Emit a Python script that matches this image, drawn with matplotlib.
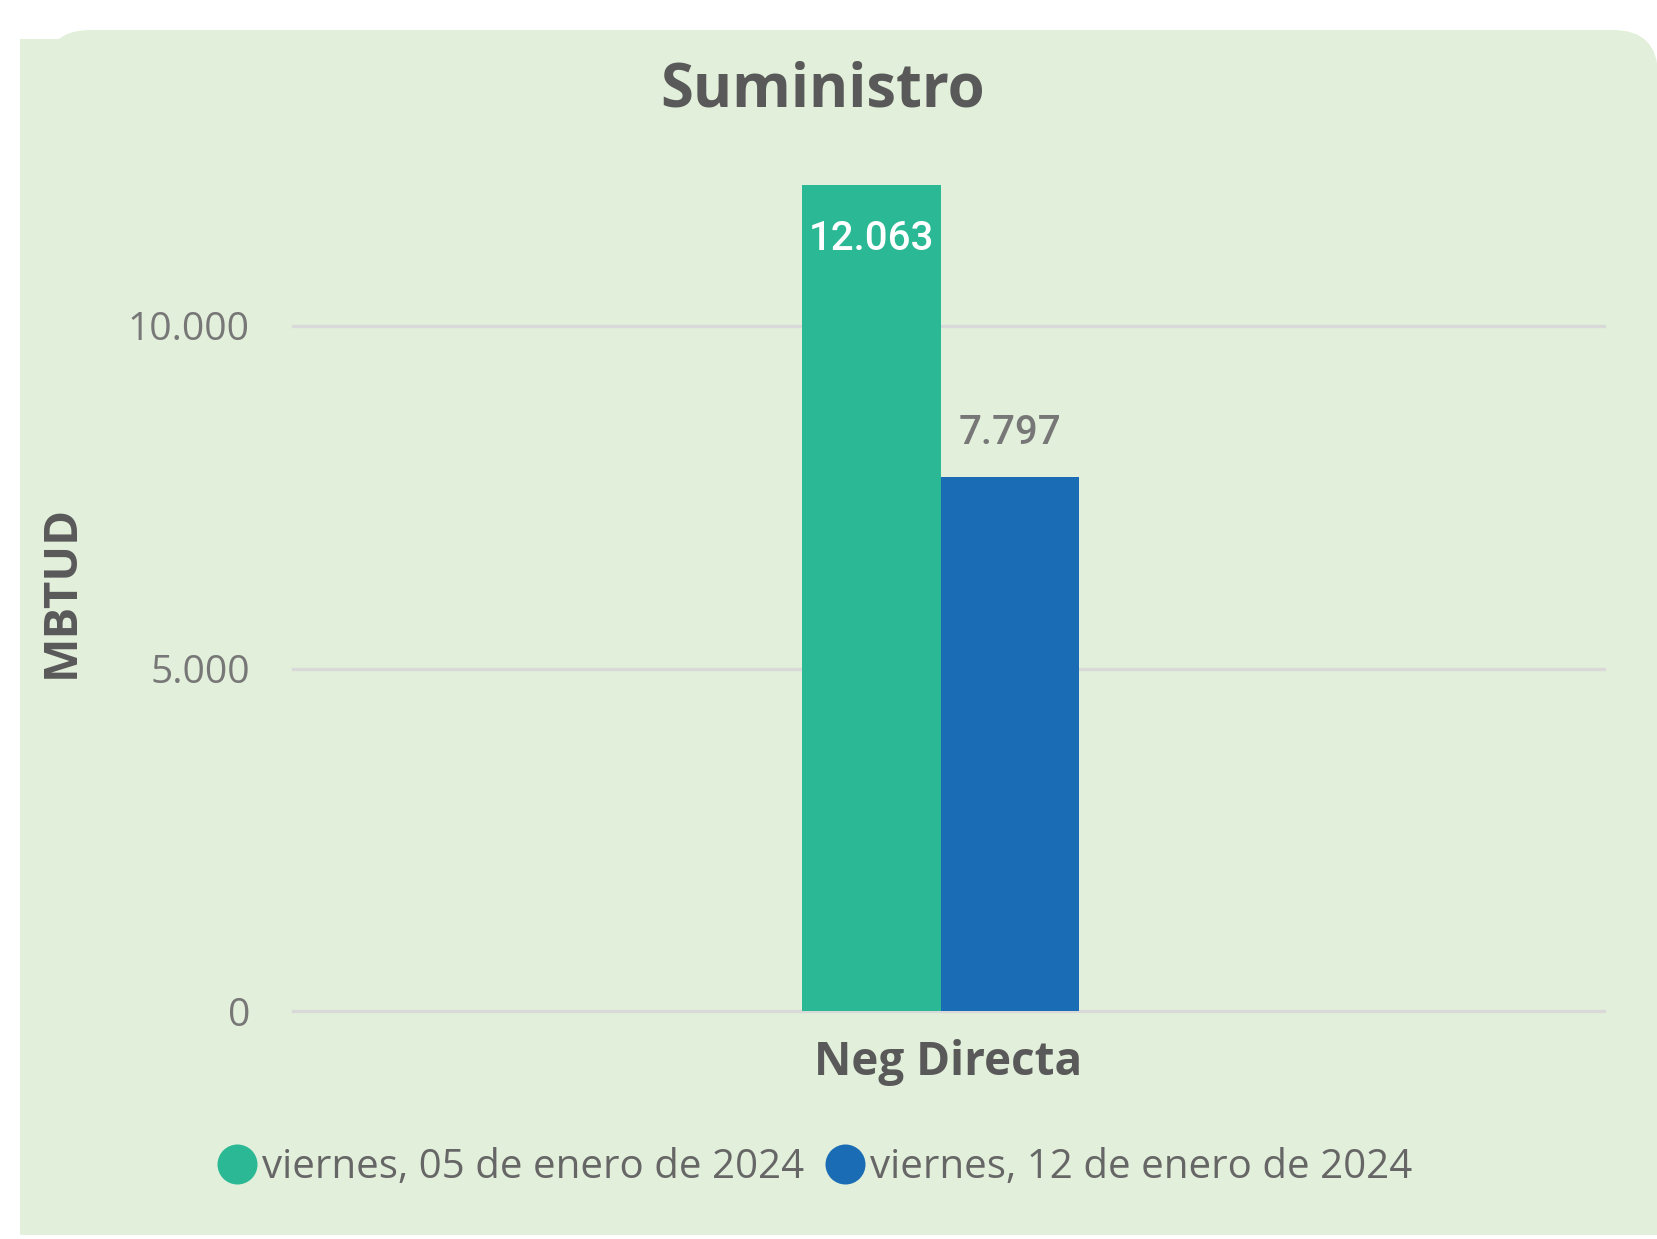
import matplotlib
matplotlib.use("Agg")
import matplotlib.pyplot as plt
from matplotlib.patches import FancyBboxPatch, Rectangle
from matplotlib.lines import Line2D
from matplotlib.transforms import IdentityTransform

# ---- data ----
categories = ["Neg Directa"]
series_names = ["viernes, 05 de enero de 2024", "viernes, 12 de enero de 2024"]
series_values = [[12063], [7797]]
yticks = [0, 5000, 10000]
ytick_labels = ["0", "5.000", "10.000"]
title = "Suministro"
ylabel = "MBTUD"

colors = ["#2BB894", "#1A6DB5"]
W, H = 1657, 1239
BG = "#E2EFDA"

fig = plt.figure(figsize=(W / 100, H / 100), dpi=100, facecolor="white")

def fx(x):
    return x / W

def fy(y):
    return 1 - y / H

# background panel
ident = IdentityTransform()
fig.add_artist(FancyBboxPatch((45, -100), 1613, 1309,
                              boxstyle="round,pad=0,rounding_size=45",
                              facecolor=BG, edgecolor="none",
                              transform=ident, zorder=-3))
fig.add_artist(Rectangle((20, 4), 200, 1196, facecolor=BG, edgecolor="none",
                         transform=ident, zorder=-3))
fig.add_artist(Rectangle((0, -5), W, 9, facecolor="white", edgecolor="none",
                         transform=ident, zorder=-2))

ax = fig.add_axes([fx(293), fy(1011), (1604 - 293) / W, (1011 - 120.5) / H])
ax.set_facecolor("none")
for s in ax.spines.values():
    s.set_visible(False)

bar_w = 138.5 / 1311
shift = -8 / 1311
x0 = range(len(categories))
containers = []
n = len(series_values)
for i, (vals, c) in enumerate(zip(series_values, colors)):
    xs = [x + shift + (i - (n - 1) / 2) * bar_w for x in x0]
    containers.append(ax.bar(xs, vals, width=bar_w, color=c, zorder=3,
                             label=series_names[i]))

ax.set_xlim(-0.5, 0.5)
ax.set_ylim(0, 13000)
ax.set_yticks(yticks)
ax.set_yticklabels(ytick_labels, family="Open Sans", fontsize=28, color="#777777")
ax.set_xticks(list(x0))
ax.set_xticklabels(categories, family="Open Sans", fontsize=33,
                   fontweight="bold", color="#595959")
ax.tick_params(axis="y", length=0, pad=31)
ax.tick_params(axis="x", length=0, pad=20)
ax.yaxis.grid(True, color="#D9D9D9", linewidth=2.4)
for gl in ax.get_ygridlines():
    gl.set_clip_on(False)
ax.set_axisbelow(True)

fmt = lambda v: f"{v:,.0f}".replace(",", ".")
ax.bar_label(containers[0], labels=[fmt(v) for v in series_values[0]],
             padding=-53, color="white", fontsize=29, family="Roboto",
             fontweight="medium")
ax.bar_label(containers[1], labels=[fmt(v) for v in series_values[1]],
             padding=18, color="#777777", fontsize=29, family="Roboto",
             fontweight="medium")

fig.text(fx(822.5), fy(106.7), title, ha="center", va="baseline",
         family="Open Sans", fontweight="bold", fontsize=43, color="#595959")
fig.text(fx(61), fy(591), ylabel, ha="center", va="center", rotation=90,
         family="Open Sans", fontweight="bold", fontsize=34, color="#595959")

handles = [Line2D([], [], marker="o", linestyle="none", markersize=28.8,
                  markerfacecolor=c, markeredgewidth=0) for c in colors]
fig.legend(handles, series_names, loc="center",
           bbox_to_anchor=(fx(814.5), fy(1168)), ncol=2, frameon=False,
           prop={"family": "Open Sans", "size": 29}, labelcolor="#666666",
           handlelength=1.0, handletextpad=0.12, columnspacing=0.5,
           borderpad=0, borderaxespad=0)

fig.savefig("out.png", dpi=100, facecolor="white")
